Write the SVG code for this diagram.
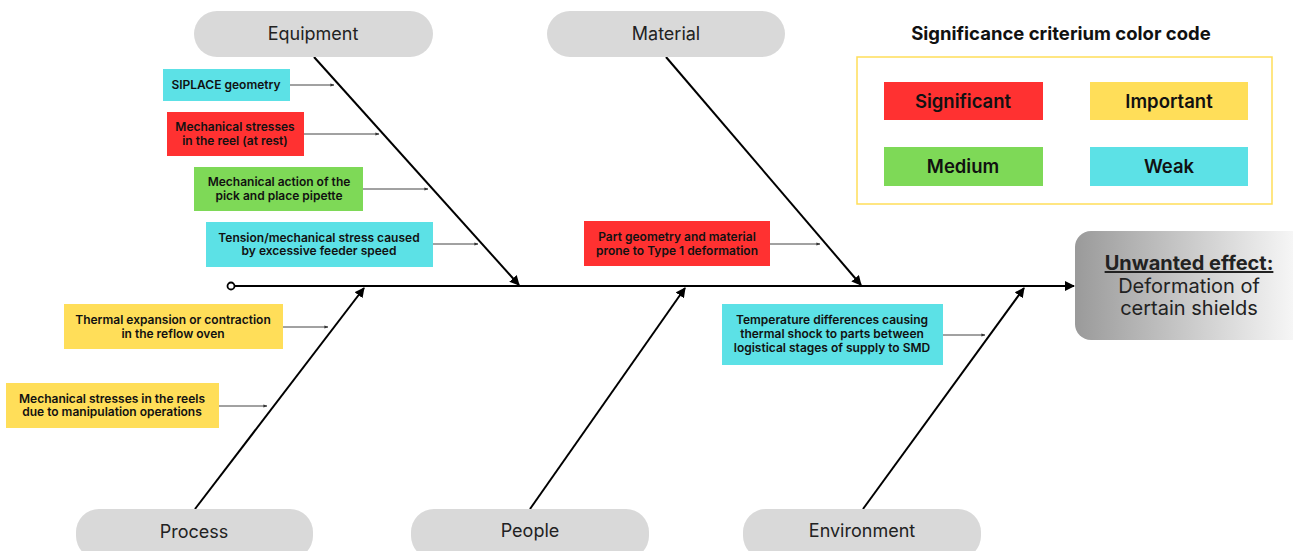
<svg xmlns="http://www.w3.org/2000/svg" width="1293" height="551" viewBox="0 0 1293 551">
<defs>
<marker id="big" viewBox="0 0 10 10" refX="9" refY="5" markerWidth="5" markerHeight="5" orient="auto" markerUnits="strokeWidth"><path d="M0,0 L10,5 L0,10 Z" fill="#000"/></marker>
<marker id="small" viewBox="0 0 10 10" refX="9" refY="5" markerWidth="4" markerHeight="4" orient="auto" markerUnits="userSpaceOnUse"><path d="M0,1 L10,5 L0,9 Z" fill="#333"/></marker>
<linearGradient id="grad" x1="0" y1="0" x2="1" y2="0"><stop offset="0" stop-color="#9a9a9a"/><stop offset="1" stop-color="#ffffff"/></linearGradient>
<style>
.pill{fill:#d9d9d9}
.cat{font-family:Inter,"Liberation Sans",sans-serif;font-size:18px;fill:#222;text-anchor:middle}
.box{font-family:Inter,"Liberation Sans",sans-serif;font-size:12px;font-weight:600;fill:#111;text-anchor:middle}
.leg{font-family:Inter,"Liberation Sans",sans-serif;font-size:18.5px;font-weight:600;fill:#111;text-anchor:middle}
.eff{font-family:Inter,"Liberation Sans",sans-serif;font-size:20px;fill:#222;text-anchor:middle}
.red{fill:#ff3131}.yel{fill:#ffde59}.grn{fill:#7ed957}.cya{fill:#5ce1e6}
.bone{stroke:#000;stroke-width:2;fill:none;marker-end:url(#big)}
.thin{stroke:#444;stroke-width:1;fill:none;marker-end:url(#small)}
</style>
</defs>
<rect width="1293" height="551" fill="#fff"/>

<g id="connectors">
<line class="bone" x1="235" y1="286" x2="1074" y2="286"/>
<circle cx="231" cy="286" r="3.5" fill="#fff" stroke="#000" stroke-width="1.8"/>
<line class="bone" x1="314" y1="57" x2="519" y2="285"/>
<line class="bone" x1="666" y1="57" x2="861" y2="285"/>
<line class="bone" x1="195" y1="509" x2="364" y2="288"/>
<line class="bone" x1="530" y1="509" x2="685" y2="288"/>
<line class="bone" x1="863" y1="509" x2="1024" y2="288"/>
<line class="thin" x1="290" y1="85" x2="334" y2="85"/>
<line class="thin" x1="304" y1="134" x2="379" y2="134"/>
<line class="thin" x1="363" y1="189" x2="428" y2="189"/>
<line class="thin" x1="433" y1="244" x2="478" y2="244"/>
<line class="thin" x1="283" y1="327" x2="328" y2="327"/>
<line class="thin" x1="219" y1="406" x2="267" y2="406"/>
<line class="thin" x1="770" y1="244" x2="820" y2="244"/>
<line class="thin" x1="943" y1="335" x2="985" y2="335"/>
</g>

<g id="equipment"><rect class="pill" x="194" y="11" width="239" height="46" rx="23"/><text class="cat" x="313" y="40">Equipment</text></g>
<g id="material"><rect class="pill" x="547" y="11" width="238" height="46" rx="23"/><text class="cat" x="666" y="40">Material</text></g>
<g id="process"><rect class="pill" x="76" y="509" width="237" height="50" rx="23"/><text class="cat" x="194" y="538">Process</text></g>
<g id="people"><rect class="pill" x="411" y="509" width="238" height="50" rx="23"/><text class="cat" x="530" y="537">People</text></g>
<g id="environment"><rect class="pill" x="743" y="509" width="238" height="50" rx="23"/><text class="cat" x="862" y="537">Environment</text></g>

<g id="siplace"><rect class="cya" x="163" y="69" width="127" height="32"/><text class="box" x="226" y="89">SIPLACE geometry</text></g>
<g id="reel-rest"><rect class="red" x="167" y="112" width="137" height="44"/><text class="box" x="235" y="131">Mechanical stresses</text><text class="box" x="235" y="145">in the reel (at rest)</text></g>
<g id="pipette"><rect class="grn" x="194" y="167" width="169" height="44"/><text class="box" x="279" y="186">Mechanical action of the</text><text class="box" x="279" y="200">pick and place pipette</text></g>
<g id="feeder"><rect class="cya" x="206" y="222" width="227" height="45"/><text class="box" x="319" y="242">Tension/mechanical stress caused</text><text class="box" x="319" y="255">by excessive feeder speed</text></g>
<g id="thermal"><rect class="yel" x="64" y="304" width="219" height="45"/><text class="box" x="173" y="324">Thermal expansion or contraction</text><text class="box" x="173" y="338">in the reflow oven</text></g>
<g id="manipulation"><rect class="yel" x="6" y="383" width="213" height="45"/><text class="box" x="112" y="403">Mechanical stresses in the reels</text><text class="box" x="112" y="416">due to manipulation operations</text></g>
<g id="part-geometry"><rect class="red" x="584" y="221" width="186" height="45"/><text class="box" x="677" y="241">Part geometry and material</text><text class="box" x="677" y="255">prone to Type 1 deformation</text></g>
<g id="temperature"><rect class="cya" x="722" y="304" width="221" height="61"/><text class="box" x="832" y="324">Temperature differences causing</text><text class="box" x="832" y="338">thermal shock to parts between</text><text class="box" x="832" y="352">logistical stages of supply to SMD</text></g>

<g id="effect"><rect x="1075" y="231" width="240" height="109" rx="16" fill="url(#grad)"/>
<text class="eff" x="1189" y="270" font-weight="700" fill="#111" text-decoration="underline">Unwanted effect:</text>
<text class="eff" x="1189" y="293">Deformation of</text>
<text class="eff" x="1189" y="315">certain shields</text></g>

<g id="legend">
<text x="1061" y="40" font-family="Inter,'Liberation Sans',sans-serif" font-size="18.5" font-weight="700" fill="#111" text-anchor="middle">Significance criterium color code</text>
<rect x="857" y="57" width="415" height="147" fill="none" stroke="#ffde59" stroke-width="1.5"/>
<rect class="red" x="884" y="82" width="159" height="38"/><text class="leg" x="963" y="108">Significant</text>
<rect class="yel" x="1090" y="82" width="158" height="38"/><text class="leg" x="1169" y="108">Important</text>
<rect class="grn" x="884" y="147" width="159" height="39"/><text class="leg" x="963" y="173">Medium</text>
<rect class="cya" x="1090" y="147" width="158" height="39"/><text class="leg" x="1169" y="173">Weak</text>
</g>
</svg>
